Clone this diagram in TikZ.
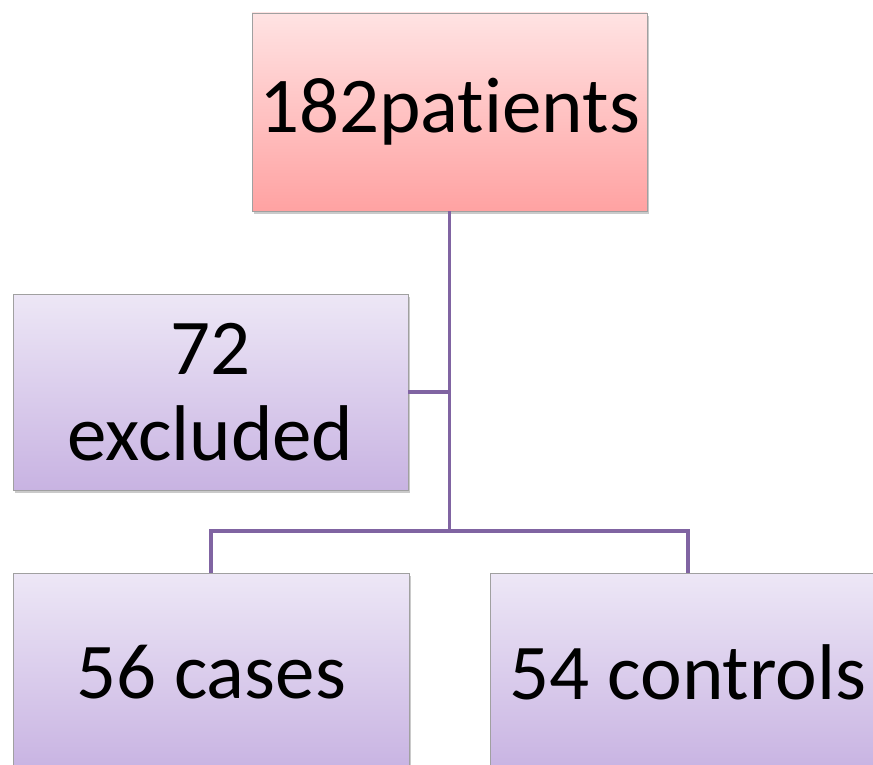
\documentclass[tikz,border=0pt]{standalone}
\usepackage{fontspec}
\setmainfont[Ligatures={NoCommon}]{Carlito}
\usetikzlibrary{shadows}
\definecolor{linec}{HTML}{8064A2}
\definecolor{boxedge}{HTML}{A0A0A0}
\definecolor{redtop}{HTML}{FFE3E3}
\definecolor{redbot}{HTML}{FFA2A2}
\definecolor{purtop}{HTML}{EDE7F6}
\definecolor{purbot}{HTML}{C8B3E2}
\tikzset{
  box/.style={draw=boxedge, line width=0.8pt, minimum width=396pt, minimum height=198pt,
    align=center, inner sep=2pt, font=\fontsize{79}{86}\selectfont,
    drop shadow={shadow xshift=2pt, shadow yshift=-3pt, opacity=0.35, fill=black!60}},
  redbox/.style={box, top color=redtop, bottom color=redbot},
  purbox/.style={box, top color=purtop, bottom color=purbot},
  conn/.style={draw=linec, line width=3.5pt}
}
\begin{document}
\begin{tikzpicture}[x=1pt,y=-1pt]
\useasboundingbox (0,0) rectangle (873,765);
\clip (0,0) rectangle (873,765);
\node[redbox, minimum width=395pt] (top) at (449.5,112) {182pat\kern0pt ients};
\node[purbox, minimum width=395pt, minimum height=196pt] (excl) at (210.5,392) {72\\excluded};
\node[purbox] (cases) at (211,672) {56 cases};
\node[purbox] (ctrl) at (688,672) {54 controls};
\coordinate (j) at (449.5,531);
\draw[conn] (top.south) -- (j);
\draw[conn] (excl.east) -- (excl.east -| top.south);
\draw[conn] (cases.north) |- (j) -| (ctrl.north);
\end{tikzpicture}
\end{document}
